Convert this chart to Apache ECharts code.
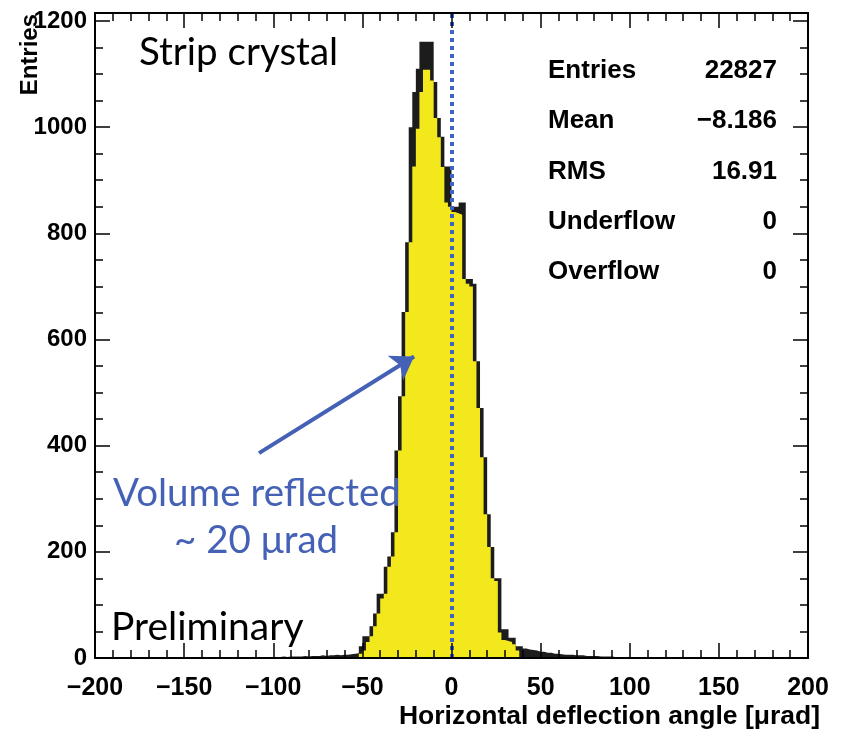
<!DOCTYPE html>
<html>
<head>
<meta charset="utf-8">
<script src="https://cdn.jsdelivr.net/npm/echarts@6/dist/echarts.min.js"></script>
<style>
html,body{margin:0;padding:0;background:#fff;}
#chart{width:844px;height:730px;}
</style>
</head>
<body>
<div id="chart"></div>
<script>
// ---- data (2 µrad bins from -200 to 200) ----
const binStart = -200;
const binWidth = 2;
const xTicks = [-200, -150, -100, -50, 0, 50, 100, 150, 200];
const yTicks = [0, 200, 400, 600, 800, 1000, 1200];

// outer (black) histogram, bins by left edge
const blackCounts = [
  0,0,0,0,0,0,0,0,0,0,            // -200..-180
  0,0,0,0,0,0,0,0,0,0,            // -180..-160
  0,0,0,0,0,0,0,0,0,0,            // -160..-140
  0,0,0,1,0,0,1,0,1,0,            // -140..-120
  1,1,0,1,1,1,2,1,1,2,            // -120..-100
  2,2,3,2,3,3,3,3,4,3,            // -100..-80
  4,4,4,5,4,5,5,6,5,6,            // -80..-60
  6,7,8,9,22,41,41,60,84,121,     // -60..-40
  121,172,191,237,391,493,652,783,1000,1066,   // -40..-20
  1110,1161,1161,1161,1161,1085,1017,982,926,926, // -20..0
  850,850,858,858,714,714,705,559,471,378,     // 0..20
  271,209,150,150,54,54,38,38,22,22,           // 20..40
  18,16,15,14,12,12,10,10,8,8,                 // 40..60
  7,6,6,6,5,5,5,4,4,4,                         // 60..80
  4,3,3,3,3,2,2,2,2,2,                         // 80..100
  1,1,2,1,1,1,0,1,0,0,                         // 100..120
  0,0,0,0,0,0,0,0,0,0,                         // 120..140
  0,0,0,0,0,0,0,0,0,0,                         // 140..160
  0,0,0,0,0,0,0,0,0,0,                         // 160..180
  0,0,0,0,0,0,0,0,0,0                          // 180..200
];

// inner (yellow filled) histogram, bins by left edge
const yellowCounts = [
  0,0,0,0,0,0,0,0,0,0,
  0,0,0,0,0,0,0,0,0,0,
  0,0,0,0,0,0,0,0,0,0,
  0,0,0,0,0,0,0,0,0,0,
  0,0,0,0,0,0,0,0,0,0,
  0,0,0,0,0,0,0,0,0,0,
  0,0,0,0,0,0,0,0,0,0,
  0,0,0,0,8,14,30,41,60,84,                    // -60..-40
  112,121,172,191,237,391,493,652,783,926,     // -40..-20
  997,1066,1108,1108,1088,1017,981,925,858,850, // -20..0
  840,838,835,714,705,700,559,471,378,271,     // 0..20
  209,150,145,48,34,32,30,26,14,0,             // 20..40
  0,0,0,0,0,0,0,0,0,0,
  0,0,0,0,0,0,0,0,0,0,
  0,0,0,0,0,0,0,0,0,0,
  0,0,0,0,0,0,0,0,0,0,
  0,0,0,0,0,0,0,0,0,0,
  0,0,0,0,0,0,0,0,0,0,
  0,0,0,0,0,0,0,0,0,0,
  0,0,0,0,0,0,0,0,0,0
];

const statNames = ['Entries', 'Mean', 'RMS', 'Underflow', 'Overflow'];
const statValues = ['22827', '\u22128.186', '16.91', '0', '0'];

const arrowFrom = [-108, 386];
const arrowTo = [-21, 568];

// ---- build step data ----
function stepData(counts) {
  const d = counts.map((c, i) => [binStart + i * binWidth, c]);
  d.push([binStart + counts.length * binWidth, counts[counts.length - 1]]);
  return d;
}

const AXFONT = 'Liberation Sans, Arial, Helvetica, sans-serif';
const ANNFONT = 'Lato, Noto Sans, sans-serif';
const blue = '#4461b6';
const minus = v => String(v).replace('-', '\u2212');

const commonX = {
  type: 'value', min: -200, max: 200, interval: 50, z: 5,
  axisLine: { onZero: false, lineStyle: { color: '#000', width: 2 } },
  axisTick: { inside: true, length: 15, lineStyle: { color: '#000', width: 1.5 } },
  minorTick: { show: true, splitNumber: 5, length: 8, lineStyle: { color: '#000', width: 1.5 } },
  splitLine: { show: false }, minorSplitLine: { show: false }
};
const commonY = {
  type: 'value', min: 0, max: 1215, interval: 200, z: 5,
  axisLine: { onZero: false, lineStyle: { color: '#000', width: 2 } },
  axisTick: { inside: true, length: 15, lineStyle: { color: '#000', width: 1.5 } },
  minorTick: { show: true, splitNumber: 4, length: 8, lineStyle: { color: '#000', width: 1.5 } },
  splitLine: { show: false }, minorSplitLine: { show: false }
};

const graphics = [];
statNames.forEach((n, i) => {
  graphics.push({ type: 'text', z: 100, left: 548, top: 58 + i * 50.3, style: {
    text: n, fontFamily: AXFONT, fontWeight: 'bold', fontSize: 26, fill: '#000' } });
  graphics.push({ type: 'text', z: 100, right: 844 - 777, top: 58 + i * 50.3, style: {
    text: statValues[i], fontFamily: AXFONT, fontWeight: 'bold', fontSize: 26, fill: '#000' } });
});
graphics.push(
  { type: 'text', z: 100, left: 139, top: 33, style: { text: 'Strip crystal', fontFamily: ANNFONT, fontSize: 38.5, fill: '#000' } },
  { type: 'text', z: 100, left: 111, top: 608, style: { text: 'Preliminary', fontFamily: ANNFONT, fontSize: 39, fill: '#000' } },
  { type: 'text', z: 100, left: 113, top: 474, style: { text: 'Volume reflected', fontFamily: ANNFONT, fontSize: 38.5, fill: blue } },
  { type: 'text', z: 100, left: 174, top: 521, style: { text: '~ 20 \u03bcrad', fontFamily: ANNFONT, fontSize: 38.5, fill: blue } },
  { type: 'text', z: 100, x: 30, y: 14, rotation: Math.PI / 2, style: { text: 'Entries', fontFamily: AXFONT, fontWeight: 'bold', fontSize: 24, fill: '#000', align: 'right', verticalAlign: 'middle' } }
);

const chart = echarts.init(document.getElementById('chart'), null, { renderer: 'canvas' });
chart.setOption({
  animation: false,
  backgroundColor: '#fff',
  grid: { left: 95, right: 36, top: 13, bottom: 69 },
  xAxis: [
    Object.assign({}, commonX, {
      position: 'bottom',
      axisLabel: { color: '#000', fontFamily: AXFONT, fontWeight: 'bold', fontSize: 25, margin: 18, formatter: minus },
      name: 'Horizontal deflection angle [\u03bcrad]', nameLocation: 'end', nameGap: 12,
      nameTextStyle: { color: '#000', fontFamily: AXFONT, fontWeight: 'bold', fontSize: 26.5, align: 'right', verticalAlign: 'top', padding: [45, 0, 0, 0] }
    }),
    Object.assign({}, commonX, { position: 'top', axisLabel: { show: false } })
  ],
  yAxis: [
    Object.assign({}, commonY, {
      position: 'left',
      axisLabel: { color: '#000', fontFamily: AXFONT, fontWeight: 'bold', fontSize: 24, margin: 8, showMaxLabel: false,
        formatter: v => (yTicks.indexOf(v) >= 0 ? String(v) : '') }
    }),
    Object.assign({}, commonY, { position: 'right', axisLabel: { show: false } })
  ],
  graphic: graphics,
  series: [
    {
      type: 'line', step: 'end', data: stepData(blackCounts), symbol: 'none', z: 2,
      lineStyle: { width: 0, color: '#1c1c1c' },
      areaStyle: { color: '#1c1c1c', opacity: 1 },
      markLine: {
        silent: true, symbol: ['none', 'arrow'], symbolSize: 22,
        label: { show: false },
        lineStyle: { color: blue, width: 4, type: 'solid' },
        data: [[{ coord: arrowFrom }, { coord: arrowTo }]]
      }
    },
    {
      type: 'line', step: 'end', data: stepData(yellowCounts), symbol: 'none', z: 3,
      lineStyle: { width: 0, color: '#f2e81c' },
      areaStyle: { color: '#f2e81c', opacity: 1 },
      markLine: {
        silent: true, symbol: 'none', label: { show: false },
        lineStyle: { color: '#3f63c6', width: 4, type: [4, 4] },
        data: [{ xAxis: 0 }]
      }
    }
  ]
});
</script>
</body>
</html>
